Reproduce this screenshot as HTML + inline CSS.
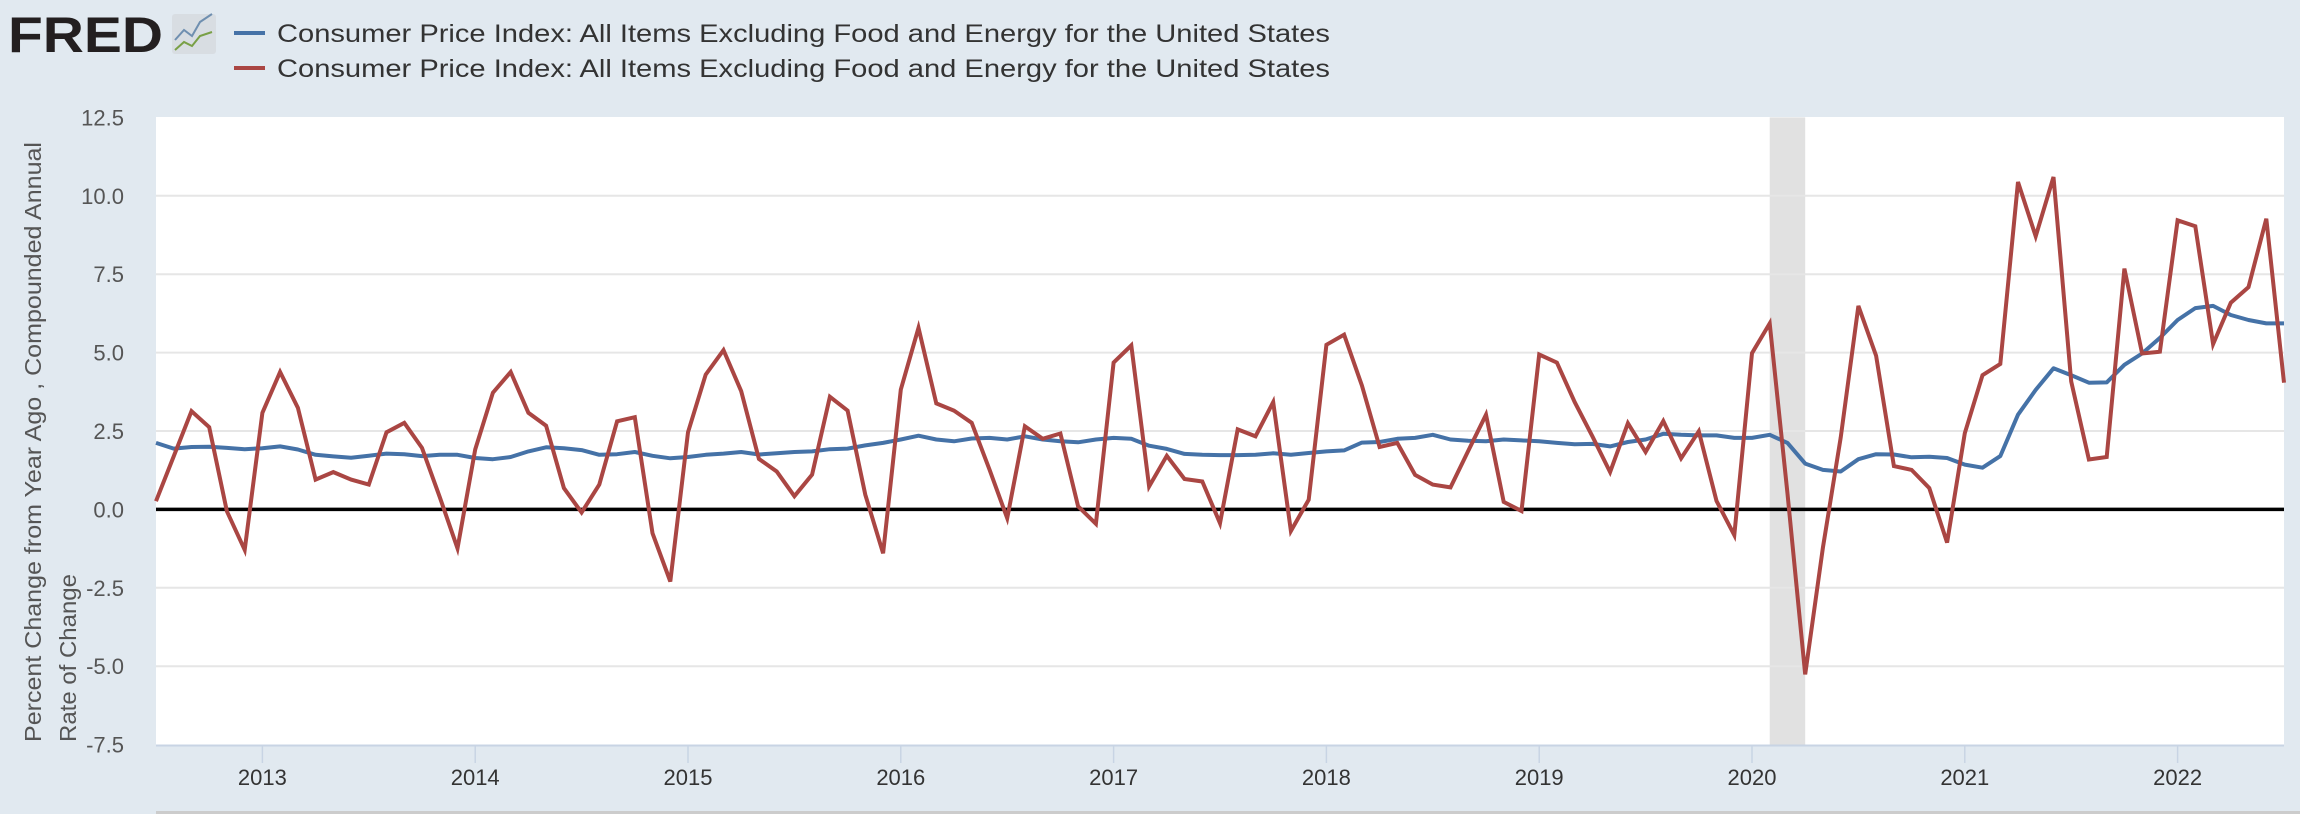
<!DOCTYPE html>
<html><head><meta charset="utf-8"><style>
html,body{margin:0;padding:0;background:#e1e9f0;}
svg{display:block;font-family:"Liberation Sans",sans-serif;}
</style></head><body>
<svg id="chart" width="2300" height="814" viewBox="0 0 2300 814">
<rect x="0" y="0" width="2300" height="814" fill="#e1e9f0"/>
<g>
<text x="8" y="52" font-size="50" font-weight="bold" fill="#231f20" textLength="155" lengthAdjust="spacingAndGlyphs">FRED</text>
<rect x="172" y="14" width="44" height="40" rx="3" fill="#d8dde2"/>
<polyline points="175,40 184,30 192,36 200,22 212,14" fill="none" stroke="#6f8fb0" stroke-width="2"/>
<polyline points="175,50 184,42 192,46 200,36 212,32" fill="none" stroke="#79a046" stroke-width="2"/>
</g>
<g>
<rect x="234" y="31" width="31" height="4" fill="#4572a7"/>
<text x="277" y="42" font-size="25" fill="#333" textLength="1053" lengthAdjust="spacingAndGlyphs">Consumer Price Index: All Items Excluding Food and Energy for the United States</text>
<rect x="234" y="66" width="31" height="4" fill="#aa4643"/>
<text x="277" y="77" font-size="25" fill="#333" textLength="1053" lengthAdjust="spacingAndGlyphs">Consumer Price Index: All Items Excluding Food and Energy for the United States</text>
</g>
<g>
<text transform="translate(41,742) rotate(-90)" font-size="23" fill="#555" textLength="600" lengthAdjust="spacingAndGlyphs">Percent Change from Year Ago , Compounded Annual</text>
<text transform="translate(76,742) rotate(-90)" font-size="23" fill="#555" textLength="168" lengthAdjust="spacingAndGlyphs">Rate of Change</text>
</g>
<rect x="156" y="117" width="2128" height="628" fill="#ffffff"/>
<g id="rec"></g>
<g id="grid"></g>
<g id="ylabels"></g>
<g id="xaxis"></g>
<g id="series"></g>
</svg>
<script>
const yTicks = [12.5, 10.0, 7.5, 5.0, 2.5, 0.0, -2.5, -5.0, -7.5];
const yearTicks = [2013, 2014, 2015, 2016, 2017, 2018, 2019, 2020, 2021, 2022];
const startYear = 2012, startMonth = 7;
const recession = [2020 + 1/12, 2020 + 3/12];
const blueValues = [2.12,1.94,1.99,2.0,1.96,1.92,1.95,2.01,1.91,1.74,1.69,1.65,1.71,1.78,1.76,1.70,1.74,1.74,1.64,1.60,1.67,1.85,1.98,1.95,1.89,1.74,1.76,1.83,1.71,1.63,1.67,1.74,
1.78,1.83,1.75,1.79,1.83,1.85,1.92,1.94,2.04,2.12,2.23,2.35,2.23,2.17,2.26,2.28,2.23,2.33,2.23,2.17,2.14,2.23,2.28,2.25,2.03,1.93,1.77,1.74,1.73,1.73,
1.74,1.79,1.74,1.80,1.85,1.88,2.13,2.15,2.25,2.28,2.38,2.23,2.19,2.17,2.23,2.20,2.17,2.12,2.08,2.09,2.01,2.15,2.23,2.41,2.38,2.36,2.36,2.28,2.28,2.38,2.12,
1.46,1.26,1.21,1.60,1.76,1.75,1.66,1.68,1.64,1.43,1.33,1.70,3.02,3.81,4.50,4.28,4.04,4.05,4.61,4.97,5.47,6.04,6.42,6.49,6.20,6.04,5.93,5.93];
const redValues = [0.26,1.69,3.13,2.62,-0.06,-1.29,3.08,4.38,3.24,0.95,1.19,0.95,0.79,2.46,2.76,1.96,0.4,-1.24,1.91,3.72,4.38,3.08,2.67,0.68,-0.10,0.79,2.81,2.94,-0.76,-2.30,2.46,4.30,
5.08,3.77,1.61,1.21,0.42,1.11,3.59,3.15,0.47,-1.40,3.82,5.79,3.38,3.15,2.76,1.27,-0.28,2.65,2.25,2.42,0.10,-0.46,4.68,5.23,0.73,1.71,0.97,0.89,-0.44,2.55,
2.33,3.42,-0.69,0.31,5.25,5.57,3.95,1.99,2.12,1.10,0.79,0.70,1.87,3.02,0.24,-0.05,4.94,4.68,3.42,2.33,1.19,2.75,1.83,2.82,1.63,2.49,0.27,-0.82,4.98,5.93,0.5,
-5.26,-1.22,2.29,6.49,4.90,1.38,1.26,0.68,-1.06,2.43,4.28,4.64,10.44,8.71,10.60,4.08,1.59,1.67,7.68,4.97,5.03,9.22,9.03,5.27,6.59,7.09,9.27,4.04];

const NS = "http://www.w3.org/2000/svg";
const L = 156, R = 2284, T = 117.4, B = 744.6;
const xMin = 2012.5, xMax = 2022.5, yMin = -7.5, yMax = 12.5;
const xs = t => L + (t - xMin) / (xMax - xMin) * (R - L);
const ys = v => B - (v - yMin) / (yMax - yMin) * (B - T);
const dateOf = i => startYear + (startMonth - 1 + i) / 12;
function mk(tag, attrs, parent) {
  const e = document.createElementNS(NS, tag);
  for (const k in attrs) e.setAttribute(k, attrs[k]);
  parent.appendChild(e); return e;
}
const rec = document.getElementById('rec');
const rr = mk('rect', {x: xs(recession[0]), y: T, width: xs(recession[1]) - xs(recession[0]), height: B - T, fill: '#e1e1e1'}, rec);


const grid = document.getElementById('grid');
const yl = document.getElementById('ylabels');
yTicks.forEach(v => {
  if (v !== 0 && v !== yMax && v !== yMin) {
    const g = mk('line', {x1: L, x2: R, y1: ys(v), y2: ys(v), stroke: '#e6e6e6', 'stroke-width': 2}, grid);
    
    
  }
  const t = mk('text', {x: 124, y: ys(v) + 8, 'font-size': 22, fill: '#555', 'text-anchor': 'end'}, yl);
  t.textContent = v.toFixed(1);
  
  
});
const xa = document.getElementById('xaxis');
const axl = mk('line', {x1: L, x2: R, y1: 745.5, y2: 745.5, stroke: '#c8d4e4', 'stroke-width': 2}, xa);


yearTicks.forEach(yr => {
  const tk = mk('line', {x1: xs(yr), x2: xs(yr), y1: 746, y2: 763, stroke: '#c8d4e4', 'stroke-width': 1.5}, xa);
  
  
  const t = mk('text', {x: xs(yr), y: 785, 'font-size': 22, fill: '#333', 'text-anchor': 'middle'}, xa);
  t.textContent = yr;
  
  
});
const bb = mk('rect', {x: L, y: 811, width: 2300 - L, height: 3, fill: '#cccccc'}, xa);


const ser = document.getElementById('series');
const zl = mk('line', {x1: L, x2: R, y1: ys(0), y2: ys(0), stroke: '#000', 'stroke-width': 3.5}, ser);


function path(vals) { return vals.map((v, i) => (i ? 'L' : 'M') + xs(dateOf(i)).toFixed(1) + ' ' + ys(v).toFixed(1)).join(' '); }
const pb = mk('path', {d: path(blueValues), fill: 'none', stroke: '#4572a7', 'stroke-width': 4, 'stroke-linejoin': 'round'}, ser);


const pr = mk('path', {d: path(redValues), fill: 'none', stroke: '#aa4643', 'stroke-width': 4, 'stroke-linejoin': 'miter'}, ser);


</script>
</body></html>
